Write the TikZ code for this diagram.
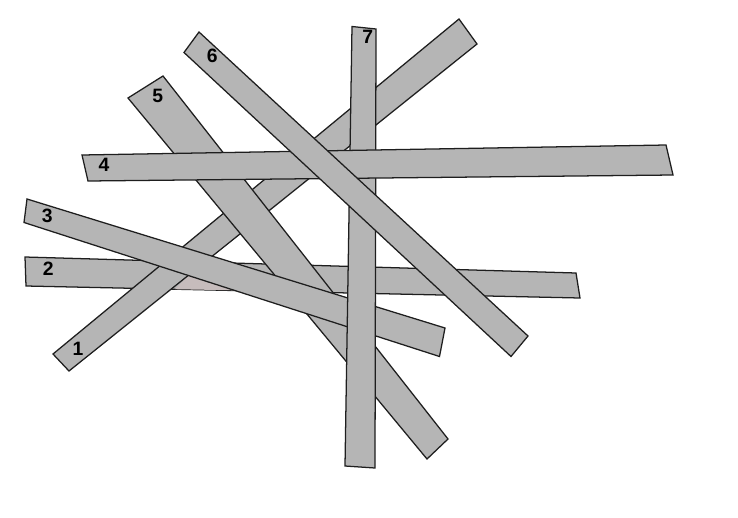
\documentclass[tikz,border=0pt]{standalone}
\usepackage{fontspec}
\setmainfont{Liberation Sans}
\definecolor{stickgray}{RGB}{181,181,181}
\definecolor{edgegray}{RGB}{30,30,30}
\definecolor{tint}{RGB}{198,188,188}
\begin{document}
\begin{tikzpicture}[x=0.75pt,y=-0.75pt,
  stick/.style={fill=stickgray,draw=edgegray,line width=0.95pt,line join=miter},
  lbl/.style={font=\fontsize{14.5}{16}\selectfont\bfseries,inner sep=0pt}]
\useasboundingbox (0,0) rectangle (738,517);
% stick 2
\draw[stick] (25,257) -- (576,273) -- (580,298) -- (26,286) -- cycle;
\node[lbl] (l2) at (48.3,268.3) {2};
\fill[tint] (190,274) -- (175,289.2) -- (234,290.3) -- cycle;
% stick 1
\draw[stick] (53,354) -- (459,19) -- (477,44) -- (69,371) -- cycle;
\node[lbl] (l1) at (78,349) {1};
% stick 5
\draw[stick] (128,98) -- (163,76) -- (448,439) -- (427,459) -- cycle;
\node[lbl] (l5) at (157.7,96) {5};
% stick 3
\draw[stick] (27,199) -- (445,328) -- (439.5,356.5) -- (24,222.5) -- cycle;
\node[lbl] (l3) at (47.3,215.7) {3};
% stick 7
\draw[stick] (352,26.5) -- (376,29) -- (375,468) -- (345,466) -- cycle;
\node[lbl] (l7) at (367.7,37) {7};
% stick 4
\draw[stick] (82,155) -- (666,145) -- (673,175) -- (88,181) -- cycle;
\node[lbl] (l4) at (104,165) {4};
% stick 6
\draw[stick] (184,52.5) -- (199,32) -- (528,336) -- (511,356.5) -- cycle;
\node[lbl] (l6) at (212.3,55.7) {6};
\end{tikzpicture}
\end{document}
